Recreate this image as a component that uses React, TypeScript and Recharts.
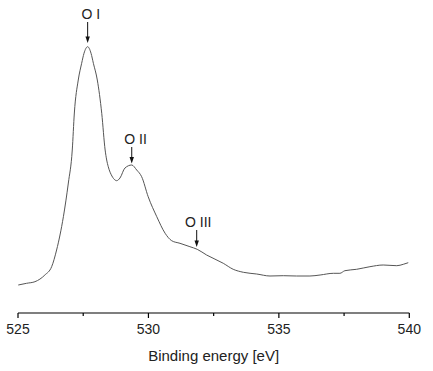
import React from "react";
import { LineChart, Line, XAxis, YAxis, ReferenceLine } from "recharts";

// binding energy (eV) and intensity (a.u.)
const energy = [
  525.01, 525.33, 525.65, 526.03, 526.29, 526.48, 526.74, 526.93, 527.08, 527.16,
  527.31, 527.44, 527.53, 527.67, 527.8, 527.89, 528.04, 528.21, 528.34, 528.4,
  528.46, 528.6, 528.72, 528.78, 528.91, 529.1, 529.36, 529.55, 529.74, 529.99,
  530.32, 530.64, 530.89, 531.21, 531.59, 531.87, 532.23, 532.87, 533.25, 533.64,
  534.15, 534.66, 535.17, 535.68, 536.19, 536.58, 537.09, 537.34, 537.53, 537.98,
  538.49, 539.0, 539.52, 539.77, 539.96,
];
const intensity = [
  28, 29.7, 31.3, 38, 46.3, 63, 96.3, 130, 163, 200,
  233, 249.7, 259.7, 266.3, 259.7, 249.7, 233, 199.7, 163, 153,
  146.3, 137, 133, 132.3, 135, 145, 148, 143, 136.3, 116.3,
  96.3, 79.7, 72.3, 69.7, 66.3, 63.7, 58, 49.7, 43.7, 40.7,
  39, 37, 37.3, 37, 37, 38, 39.7, 39.7, 42.3, 43.7,
  46.3, 48, 47.3, 48.7, 50.3,
];

const xTicks = [525, 527.5, 530, 532.5, 535, 537.5, 540];

// peak markers: position, arrow top, arrow tip
const peakLabels = ["O I", "O II", "O III"];
const peakEnergy = [527.67, 529.36, 531.85];
const arrowTop = [291, 166, 83];
const arrowTip = [270, 149.5, 66];
const labelShift = [-6.2, -7.4, -11.7];

const data = energy.map((e, i) => ({ e, v: intensity[i] }));

const FONT = "'Liberation Sans', Arial, sans-serif";

function AxisTick({ x, y, payload }: any) {
  const major = payload.value % 5 === 0;
  return (
    <g>
      <line x1={x} x2={x} y1={y} y2={y + (major ? 5 : 3)} stroke="#000" strokeWidth={1.2} />
      {major && (
        <text x={x} y={y + 21} textAnchor="middle" fontSize={14} fontFamily={FONT} fill="#222">
          {payload.value}
        </text>
      )}
    </g>
  );
}

const arrowShape = (label: string, shift: number) => (props: any) => {
  const { x1, y1, x2, y2 } = props;
  const top = Math.min(y1, y2);
  const tip = Math.max(y1, y2);
  return (
    <g>
      <line x1={x1} x2={x2} y1={top} y2={tip - 5} stroke="#111" strokeWidth={1} />
      <polygon points={`${x1 - 2.2},${tip - 6.5} ${x1 + 2.2},${tip - 6.5} ${x1},${tip}`} fill="#111" />
      <text x={x1 + shift} y={top - 3.4} fontSize={14} fontFamily={FONT} fill="#222">
        {label}
      </text>
    </g>
  );
};

export default function App() {
  return (
    <div style={{ position: "absolute", left: 0, top: 0, background: "#fff" }}>
      <LineChart width={433} height={371} data={data} margin={{ top: 0, right: 23.7, left: 18, bottom: 0 }}>
        <XAxis
          dataKey="e"
          type="number"
          domain={[525, 540]}
          ticks={xTicks}
          interval={0}
          allowDataOverflow
          height={58}
          tickLine={false}
          tickSize={0}
          tickMargin={0}
          axisLine={{ stroke: "#000", strokeWidth: 1.2 }}
          tick={<AxisTick />}
          label={{
            content: (p: any) => {
              const vb = p.viewBox;
              return (
                <text x={vb.x + vb.width / 2} y={vb.y + 47.5} textAnchor="middle" fontSize={15} fontFamily={FONT} fill="#222">
                  Binding energy [eV]
                </text>
              );
            },
          }}
        />
        <YAxis hide domain={[0, 313]} />
        <Line
          type="monotone"
          dataKey="v"
          stroke="#555"
          strokeWidth={1}
          dot={false}
          isAnimationActive={false}
        />
        {peakLabels.map((lab, i) => (
          <ReferenceLine
            key={lab}
            segment={[
              { x: peakEnergy[i], y: arrowTop[i] },
              { x: peakEnergy[i], y: arrowTip[i] },
            ]}
            shape={arrowShape(lab, labelShift[i])}
            ifOverflow="visible"
          />
        ))}
      </LineChart>
    </div>
  );
}
